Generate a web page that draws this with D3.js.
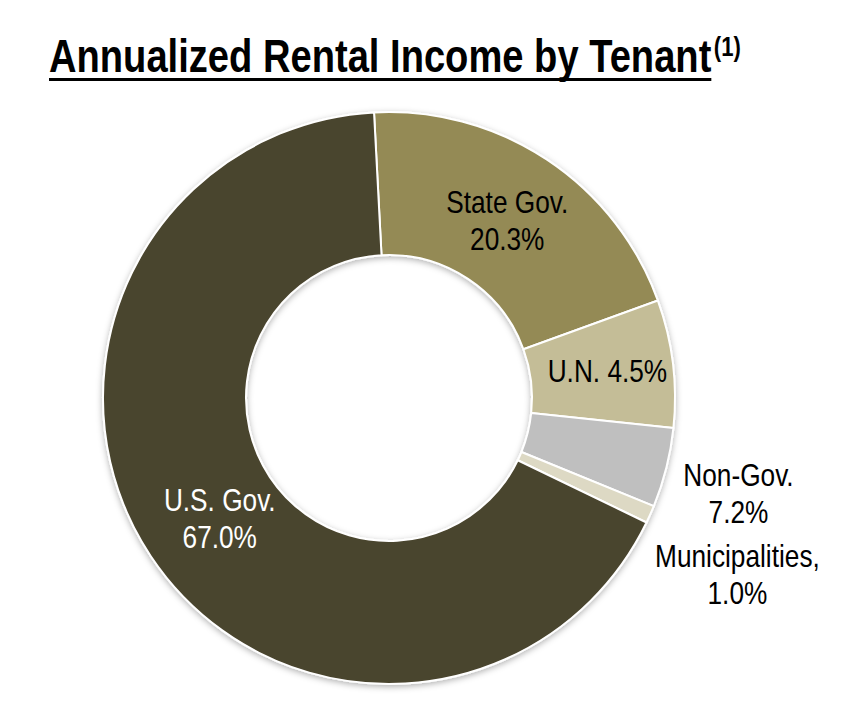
<!DOCTYPE html>
<html>
<head>
  <meta charset="utf-8">
  <title>Annualized Rental Income by Tenant</title>
  <script src="https://cdn.jsdelivr.net/npm/d3@7"></script>
  <style>
    html, body { margin: 0; padding: 0; background: #fff; }
    svg { display: block; }
    text { font-family: "Liberation Sans Narrow", "Arial Narrow", "Liberation Sans", Arial, sans-serif; }
  </style>
</head>
<body>
  <div id="chart"></div>
  <script>
    // slice shares as drawn in the picture (the source's U.N. / Non-Gov. labels
    // do not match their slice sizes, the labels are kept as printed)
    const tenants = ["State Gov.", "U.N.", "Non-Gov.", "Municipalities", "U.S. Gov."];
    const shares = [20.3, 7.2, 4.5, 1.0, 67.0];
    const labelLines = [
      ["State Gov.", "20.3%"],
      ["U.N. 4.5%"],
      ["Non-Gov.", "7.2%"],
      ["Municipalities,", "1.0%"],
      ["U.S. Gov.", "67.0%"]
    ];
    const colors = ["#948a54", "#c4bd97", "#bfbfbf", "#ddd9c4", "#4a442d"];
    const labelColors = ["#000", "#000", "#000", "#000", "#fff"];

    const width = 844, height = 712;
    const cx = 389, cy = 398;
    const outerR = 286, innerR = 143;

    const svg = d3.select("#chart").append("svg")
      .attr("width", width)
      .attr("height", height);

    svg.append("rect").attr("width", width).attr("height", height).attr("fill", "#fff");

    const defs = svg.append("defs");
    defs.append("filter")
      .attr("id", "shadow")
      .attr("x", "-10%").attr("y", "-10%").attr("width", "120%").attr("height", "120%")
      .append("feDropShadow")
      .attr("dx", 0).attr("dy", 2)
      .attr("stdDeviation", 3)
      .attr("flood-color", "#000")
      .attr("flood-opacity", 0.3);

    // check whether a narrow face is really there, else squeeze the regular one
    const probe = svg.append("text").attr("font-size", 40).text("Municipalities");
    const wNarrow = probe.node().getComputedTextLength();
    probe.style("font-family", "'Liberation Sans', Arial, sans-serif");
    const wRegular = probe.node().getComputedTextLength();
    probe.remove();
    const squeeze = wNarrow < wRegular * 0.95 ? 1 : 0.82;

    // title
    const title = svg.append("g").attr("transform", `translate(49,72) scale(${squeeze},1)`);
    const titleText = title.append("text")
      .attr("font-size", 46.5)
      .attr("font-weight", "bold")
      .attr("fill", "#000")
      .text("Annualized Rental Income by Tenant");
    const tw = titleText.node().getComputedTextLength();
    title.append("text")
      .attr("x", tw + 3)
      .attr("y", -16)
      .attr("font-size", 27)
      .attr("font-weight", "bold")
      .attr("fill", "#000")
      .text("(1)");
    title.append("rect")
      .attr("x", 0)
      .attr("y", 6)
      .attr("width", tw)
      .attr("height", 3)
      .attr("fill", "#000");

    // donut
    const pie = d3.pie()
      .sort(null)
      .value(d => d)
      .startAngle(-3 * Math.PI / 180)
      .endAngle(357 * Math.PI / 180);

    const arcs = pie(shares);

    const arc = d3.arc().innerRadius(innerR).outerRadius(outerR);

    const ring = svg.append("g")
      .attr("transform", `translate(${cx},${cy})`);

    ring.append("g")
      .attr("filter", "url(#shadow)")
      .selectAll("path")
      .data(arcs)
      .join("path")
      .attr("d", arc)
      .attr("fill", (d, i) => colors[i])
      .attr("stroke", "#fff")
      .attr("stroke-width", 2)
      .attr("stroke-linejoin", "round")
      .append("title")
      .text((d, i) => `${tenants[i]}: ${shares[i]}%`);

    // label placement: radius of the anchor and a small nudge
    const labelRadius = [214, 214, 350, 400, 214];
    const labelNudge = [[0, 1], [6, -1], [10, 10], [-17, 14], [9, 2]];
    const lineHeight = 37;

    const labels = ring.append("g")
      .selectAll("g")
      .data(arcs)
      .join("g")
      .attr("transform", (d, i) => {
        const [x, y] = d3.arc().innerRadius(labelRadius[i]).outerRadius(labelRadius[i]).centroid(d);
        return `translate(${x + labelNudge[i][0]},${y + labelNudge[i][1]}) scale(${squeeze},1)`;
      });

    labels.append("text")
      .attr("text-anchor", "middle")
      .attr("font-size", 32)
      .attr("fill", (d, i) => labelColors[i])
      .selectAll("tspan")
      .data((d, i) => labelLines[i].map((t, k, a) => ({ t, k, n: a.length })))
      .join("tspan")
      .attr("x", 0)
      .attr("y", d => (d.k - (d.n - 1) / 2) * lineHeight + 11)
      .text(d => d.t);
  </script>
</body>
</html>
